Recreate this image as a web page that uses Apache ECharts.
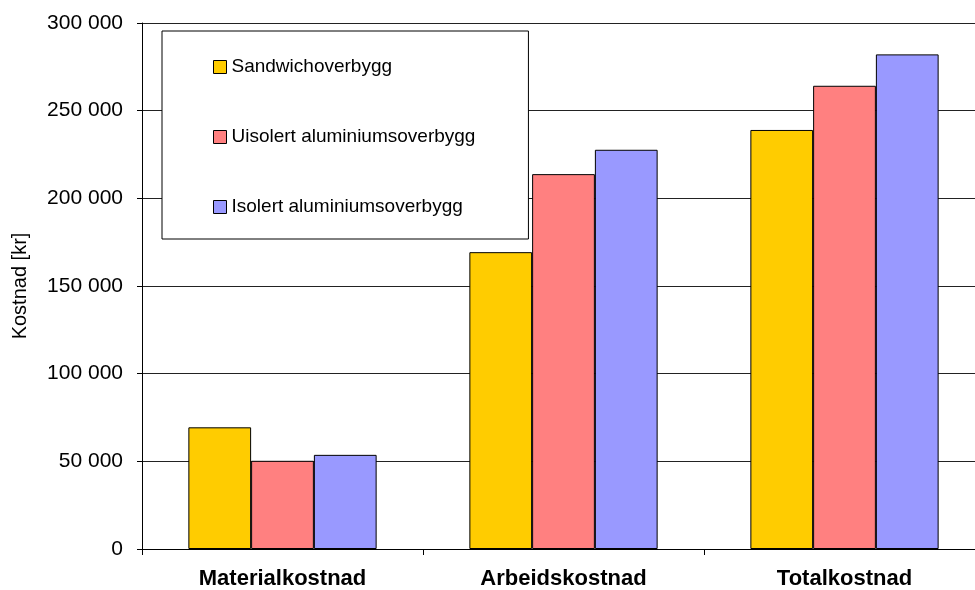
<!DOCTYPE HTML>
<html>
<head>
<meta charset="utf-8">
<title>Kostnad</title>
<style>
    html, body { margin: 0; padding: 0; background: #fff; overflow: hidden; }
    #cost-chart { width: 975px; height: 590px; }
</style>
</head>
<body>
<div id="cost-chart"></div>

<script type="text/javascript" src="https://cdn.jsdelivr.net/npm/echarts@6/dist/echarts.min.js"></script>
<script type="text/javascript">
    var categories = ['Materialkostnad', 'Arbeidskostnad', 'Totalkostnad']
    var seriesNames = ['Sandwichoverbygg', 'Uisolert aluminiumsoverbygg', 'Isolert aluminiumsoverbygg']
    var sandwich = [69400, 169300, 239000]
    var uisolert = [50300, 213800, 264200]
    var isolert = [53700, 227700, 282100]
    var colors = ['#FFCC00', '#FF8080', '#9999FF']

    var fmt = function (v) {
        return String(v).replace(/\B(?=(\d{3})+(?!\d))/g, ' ')
    }

    var chart = echarts.init(document.getElementById('cost-chart'))
    var values = [sandwich, uisolert, isolert]
    var series = seriesNames.map(function (name, i) {
        return {
            name: name,
            type: 'bar',
            data: values[i],
            barGap: '0%',
            barCategoryGap: '33%',
            itemStyle: { color: colors[i], borderColor: '#000', borderWidth: 1 }
        }
    })

    // plot area runs a bit past the right edge, like the original
    var option = {
        animation: false,
        textStyle: { fontFamily: 'Liberation Sans, Arial, sans-serif' },
        grid: { left: 142, right: -10, top: 23, bottom: 41, outerBoundsMode: 'none', containLabel: false },
        legend: {
            orient: 'vertical',
            left: 162,
            top: 31,
            padding: [26, 53, 22, 51],
            itemGap: 50,
            itemWidth: 13,
            itemHeight: 13,
            icon: 'rect',
            itemStyle: { borderColor: '#000', borderWidth: 1 },
            backgroundColor: '#fff',
            borderColor: '#000',
            borderWidth: 1,
            textStyle: { fontSize: 19, color: '#000', lineHeight: 20 },
            data: seriesNames
        },
        xAxis: {
            type: 'category',
            data: categories,
            axisLine: { lineStyle: { color: '#000', width: 1 } },
            axisTick: { show: true, length: 6, lineStyle: { color: '#000' } },
            axisLabel: { fontSize: 22, fontWeight: 'bold', color: '#000', margin: 19 }
        },
        yAxis: {
            type: 'value',
            min: 0,
            max: 300000,
            interval: 50000,
            name: 'Kostnad [kr]',
            nameLocation: 'middle',
            nameGap: 112,
            nameTextStyle: { fontSize: 20, color: '#000' },
            axisLine: { show: true, lineStyle: { color: '#000', width: 1 } },
            axisTick: { show: true, length: 5, lineStyle: { color: '#000' } },
            axisLabel: { fontSize: 21, color: '#000', margin: 19, formatter: fmt },
            splitLine: { show: true, lineStyle: { color: '#222', width: 1 } }
        },
        series: series
    }
    chart.setOption(option)
</script>
</body>
</html>
